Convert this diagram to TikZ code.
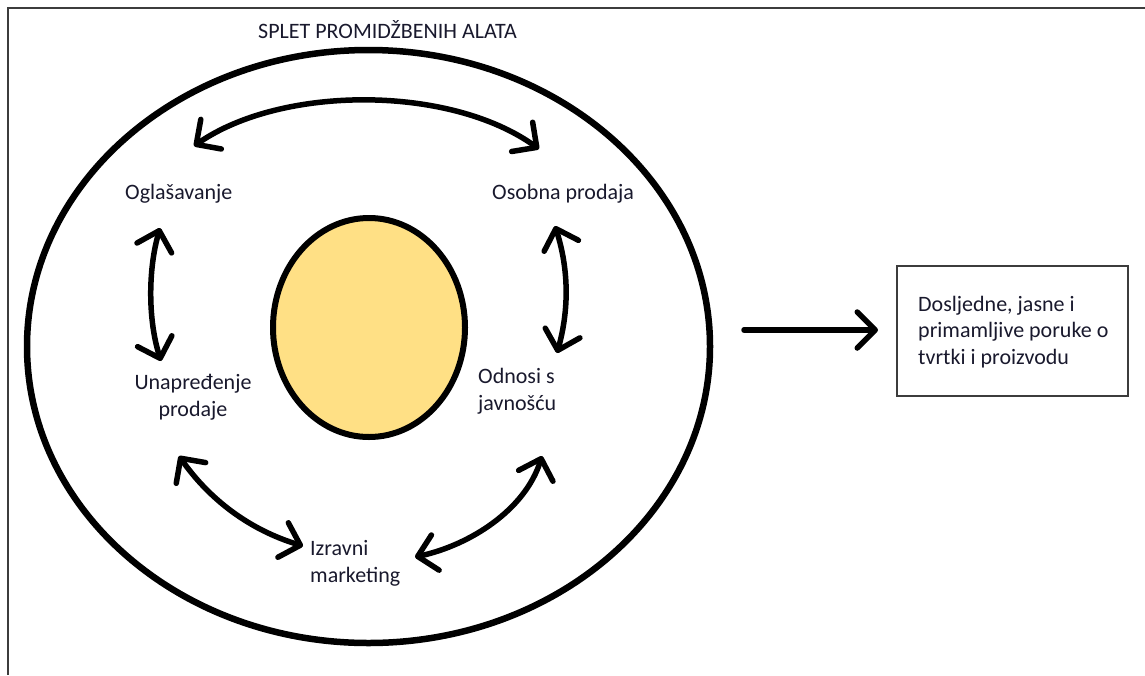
\documentclass[tikz,border=0pt]{standalone}
\usepackage{fontspec}
\setmainfont{Carlito}
\usetikzlibrary{arrows.meta,shapes.geometric}
\definecolor{txt}{RGB}{25,25,45}
\definecolor{yel}{RGB}{255,224,133}
\definecolor{frm}{RGB}{60,60,60}
\tikzset{
  lbl/.style={inner sep=0pt, text=txt, font=\fontsize{22}{26.5}\selectfont},
  hand/.style={line width=5.5pt, line cap=round, line join=round},
  tip/.style={-{Straight Barb[length=18pt,width=36pt,round]}},
  dtip/.style={{Straight Barb[length=18pt,width=36pt,round]}-{Straight Barb[length=18pt,width=36pt,round]}},
}
\begin{document}
\begin{tikzpicture}[x=1pt,y=-1pt]
\useasboundingbox (0,0) rectangle (1145,675);
% frame (top and left)
\coordinate (fTR) at (1145,8);
\coordinate (fTL) at (8,8);
\coordinate (fBL) at (8,675);
\draw[frm, line width=1.4pt] (fTR) -- (fTL) -- (fBL);
% ellipses
\node (outer) [draw, line width=6.5pt, ellipse, minimum width=683pt, minimum height=593pt, inner sep=0pt] at (368.5,346.5) {};
\node (core) [draw, line width=6pt, fill=yel, ellipse, minimum width=192pt, minimum height=219pt, inner sep=0pt] at (369,327.5) {};
% title
\node (title) [lbl, anchor=base west] at (258,38) {SPLET PROMIDŽBENIH ALATA};
% labels
\node (ogl) [lbl, anchor=base west] at (125,199) {Oglašavanje};
\node (oso) [lbl, anchor=base west] at (492,199) {Osobna prodaja};
\node (una) [lbl, anchor=base, align=center] at (193,416) {Unapređenje\\prodaje};
\node (odn) [lbl, anchor=base west, align=left] at (478,410) {Odnosi s\\javnošću};
\node (izr) [lbl, anchor=base west, align=left] at (310,582) {Izravni\\marketing};
% result box
\node (box) [draw=frm, line width=1.2pt, minimum width=231pt, minimum height=130pt, inner sep=0pt] at (1012.5,331) {};
\node (boxt) [lbl, anchor=base west, align=left] at (918,364) {Dosljedne, jasne i\\primamljive poruke o\\tvrtki i proizvodu};
% arrow end points
\coordinate (a1) at (194,146);
\coordinate (a2) at (539,149);
\coordinate (b1) at (160,228);
\coordinate (b2) at (161,361);
\coordinate (c1) at (555,226);
\coordinate (c2) at (557,353);
\coordinate (d1) at (179,456);
\coordinate (d2) at (303,546);
\coordinate (e1) at (542,456);
\coordinate (e2) at (415,557);
\coordinate (r1) at (744,330);
\coordinate (r2) at (878,330);
% arrows
\draw[hand, dtip] (a1) .. controls (282,85) and (450,85) .. (a2);
\draw[hand, dtip] (b1) .. controls (148,270) and (148,320) .. (b2);
\draw[hand, dtip] (c1) .. controls (569,270) and (569,310) .. (c2);
\draw[hand, dtip] (d1) .. controls (210,500) and (250,530) .. (d2);
\draw[hand, dtip] (e1) .. controls (525,510) and (470,545) .. (e2);
\draw[hand, tip] (r1) -- (r2);
\end{tikzpicture}
\end{document}
